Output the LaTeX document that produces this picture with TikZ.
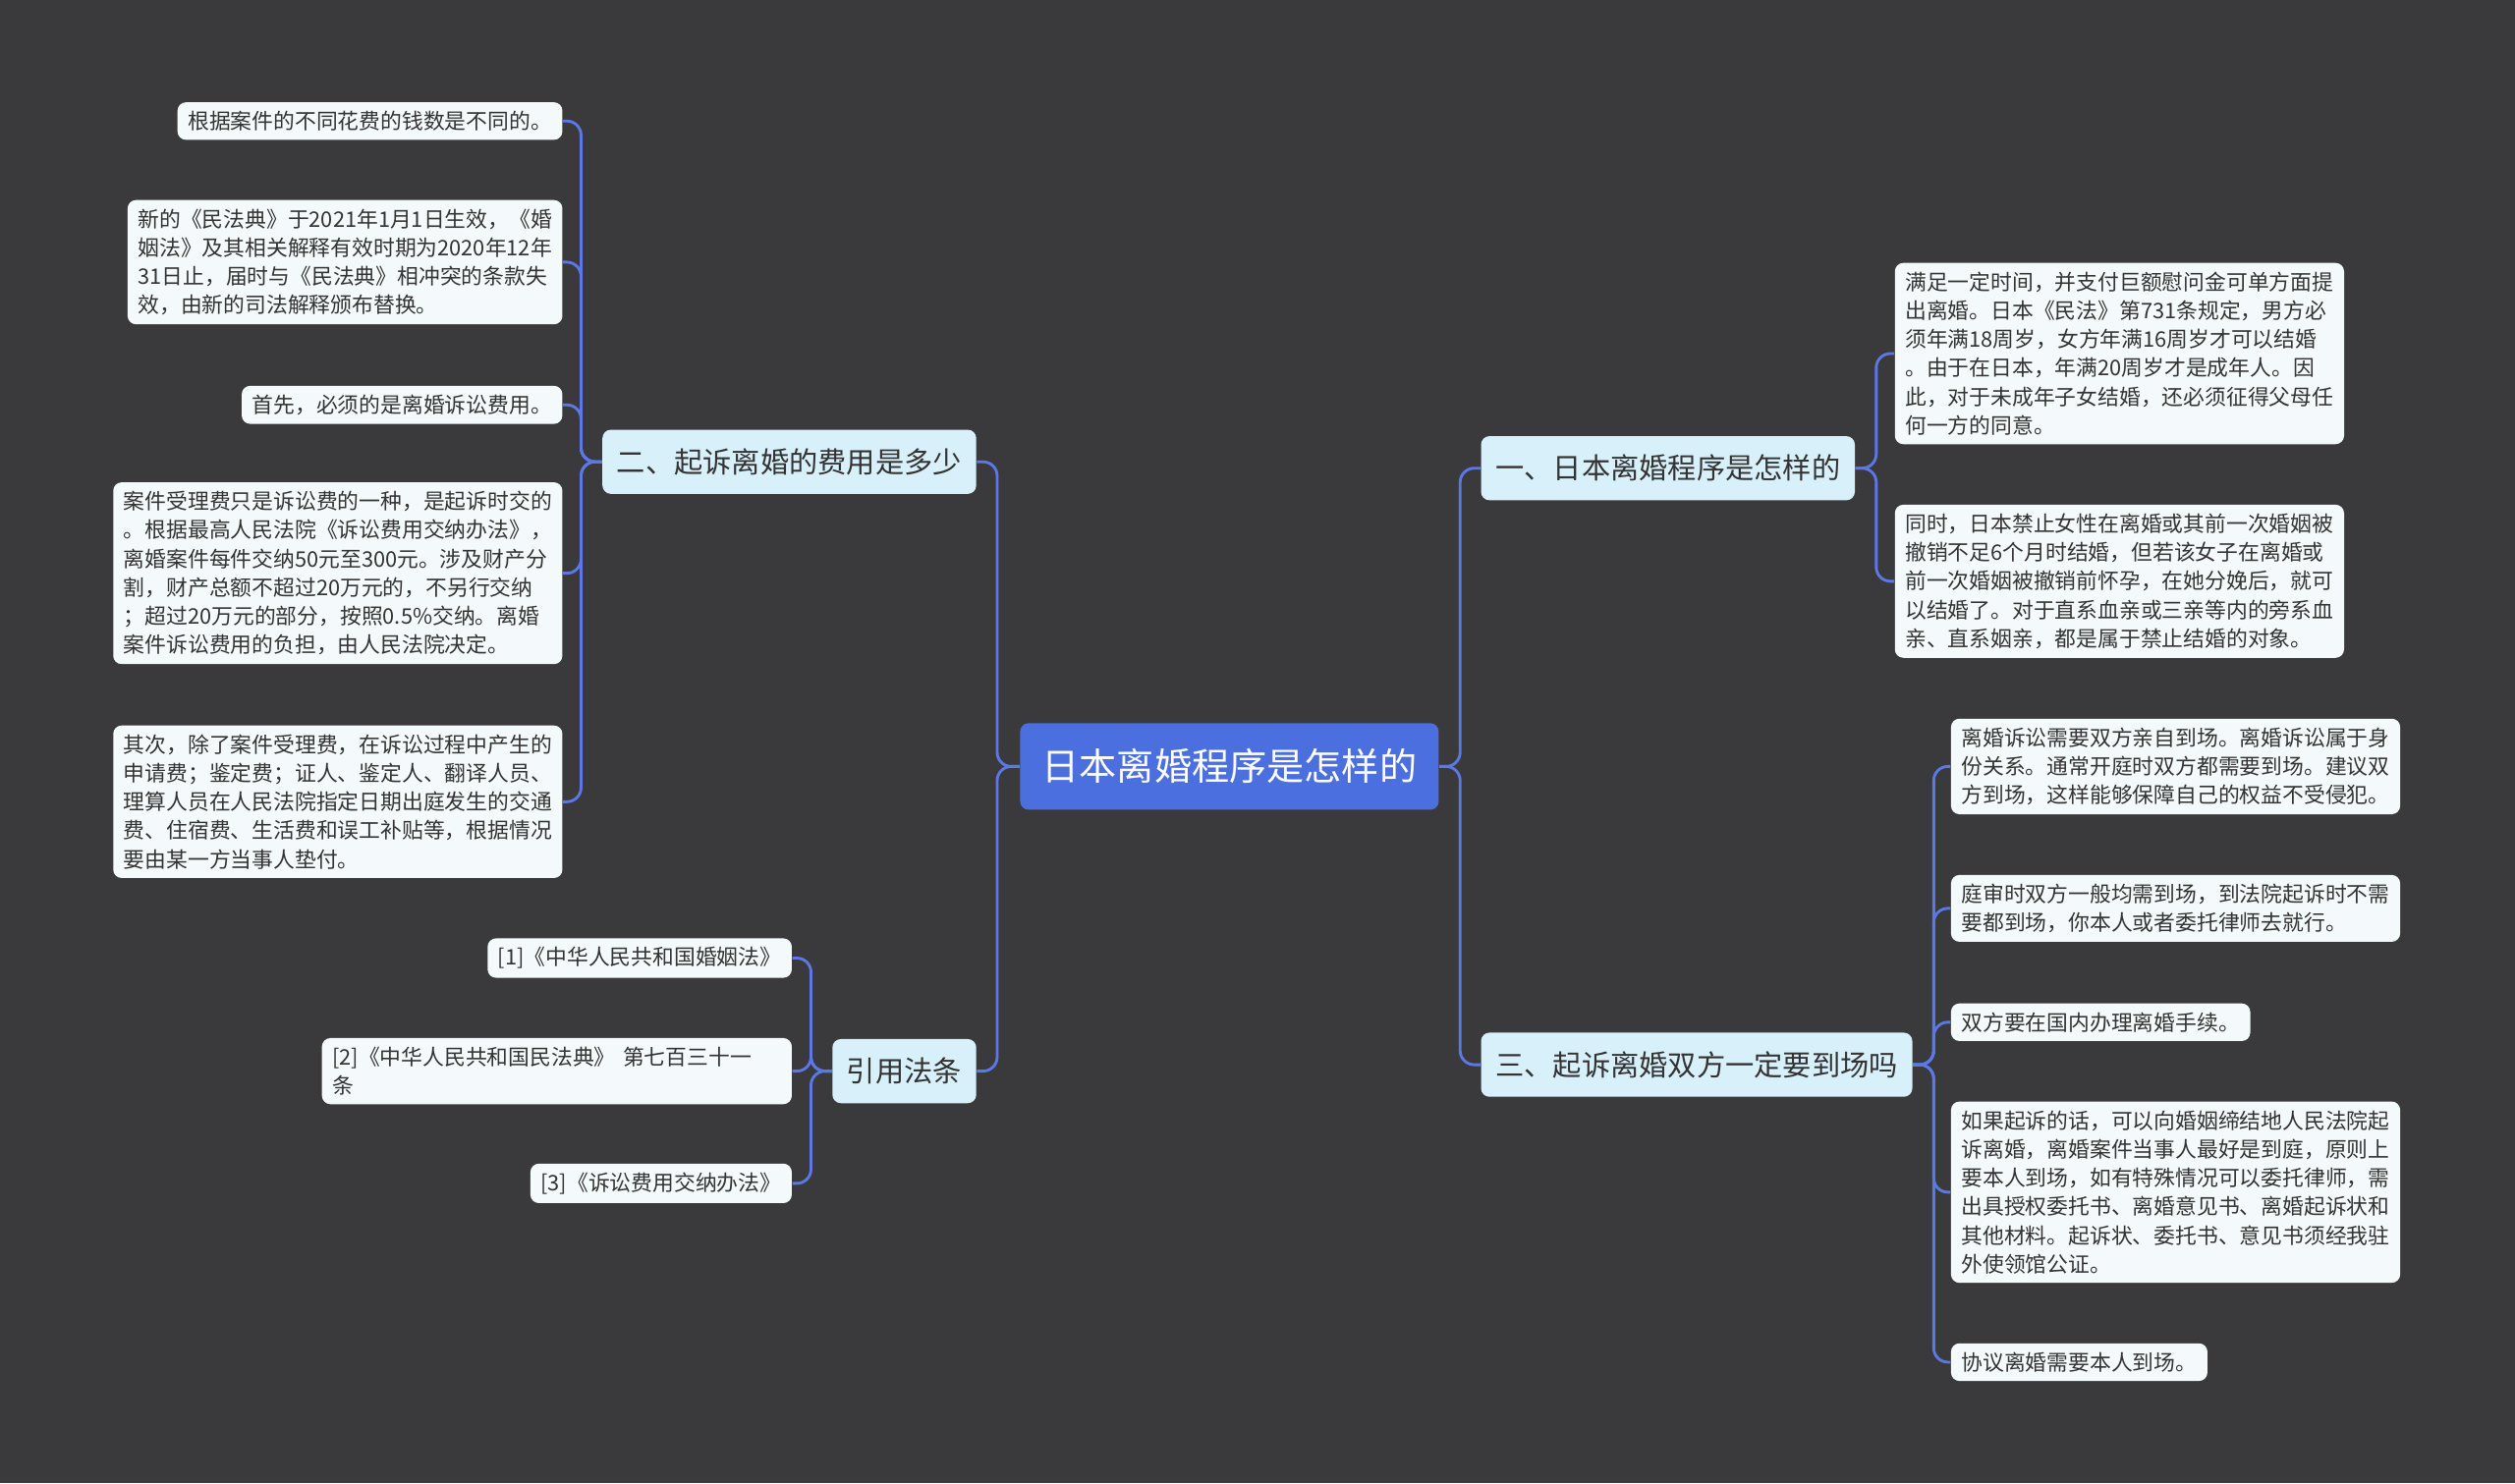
\documentclass[tikz,border=0pt]{standalone}
\usepackage{fontspec}
\setmainfont{Noto Sans CJK SC}
\definecolor{bg}{HTML}{3A3A3C}
\definecolor{conn}{HTML}{5B78E6}
\definecolor{rootc}{HTML}{4C6FE0}
\definecolor{brc}{HTML}{D8F0FA}
\definecolor{leafc}{HTML}{F4FAFC}
\definecolor{txt}{HTML}{333333}
\tikzset{
  leaf/.style={fill=leafc, rounded corners=3pt, font=\fontsize{7.6}{10.2}\selectfont, align=left, inner xsep=0.13cm, inner ysep=0.11cm, text=txt},
  br/.style={fill=brc, rounded corners=3pt, font=\fontsize{10.2}{12}\selectfont, inner xsep=0.18cm, inner ysep=0.14cm, text=txt, minimum height=0.8cm},
  root/.style={fill=rootc, rounded corners=3pt, font=\fontsize{13.3}{15}\selectfont, text=white, minimum height=1.08cm, minimum width=5.22cm},
  cn/.style={draw=conn, line width=1pt, rounded corners=5pt}
}
\begin{document}
\begin{tikzpicture}[x={(0.02cm,0)}, y={(0,-0.02cm)}]
\fill[bg] (0,0) rectangle (1568,925);
\useasboundingbox (0,0) rectangle (1568,925);
\node[root] (root) at (766.5,478) {日本离婚程序是怎样的};
\node[br, anchor=east] (b2) at (609,288) {二、起诉离婚的费用是多少};
\node[br, anchor=east] (ref) at (609,668) {引用法条};
\node[br, anchor=west] (b1) at (923,292) {一、日本离婚程序是怎样的};
\node[br, anchor=west] (b3) at (923,664) {三、起诉离婚双方一定要到场吗};

\node[leaf, anchor=east] (l1) at (351,75.5) {根据案件的不同花费的钱数是不同的。};
\node[leaf, anchor=east] (l2) at (351,163.5) {新的《民法典》于2021年1月1日生效，《婚\\姻法》及其相关解释有效时期为2020年12年\\31日止，届时与《民法典》相冲突的条款失\\效，由新的司法解释颁布替换。};
\node[leaf, anchor=east] (l3) at (351,252.5) {首先，必须的是离婚诉讼费用。};
\node[leaf, anchor=east] (l4) at (351,357.5) {案件受理费只是诉讼费的一种，是起诉时交的\\。根据最高人民法院《诉讼费用交纳办法》，\\离婚案件每件交纳50元至300元。涉及财产分\\割，财产总额不超过20万元的，不另行交纳\\；超过20万元的部分，按照0.5\%交纳。离婚\\案件诉讼费用的负担，由人民法院决定。};
\node[leaf, anchor=east] (l5) at (351,500) {其次，除了案件受理费，在诉讼过程中产生的\\申请费；鉴定费；证人、鉴定人、翻译人员、\\理算人员在人民法院指定日期出庭发生的交通\\费、住宿费、生活费和误工补贴等，根据情况\\要由某一方当事人垫付。};

\node[leaf, anchor=east] (r1) at (494,597.5) {[1]《中华人民共和国婚姻法》};
\node[leaf, anchor=east, text width=5.6cm] (r2) at (494,668) {[2]《中华人民共和国民法典》 第七百三十一\\条};
\node[leaf, anchor=east] (r3) at (494,738) {[3]《诉讼费用交纳办法》};

\node[leaf, anchor=west] (a1) at (1181,220.5) {满足一定时间，并支付巨额慰问金可单方面提\\出离婚。日本《民法》第731条规定，男方必\\须年满18周岁，女方年满16周岁才可以结婚\\。由于在日本，年满20周岁才是成年人。因\\此，对于未成年子女结婚，还必须征得父母任\\何一方的同意。};
\node[leaf, anchor=west] (a2) at (1181,362.5) {同时，日本禁止女性在离婚或其前一次婚姻被\\撤销不足6个月时结婚，但若该女子在离婚或\\前一次婚姻被撤销前怀孕，在她分娩后，就可\\以结婚了。对于直系血亲或三亲等内的旁系血\\亲、直系姻亲，都是属于禁止结婚的对象。};

\node[leaf, anchor=west] (c1) at (1216,478) {离婚诉讼需要双方亲自到场。离婚诉讼属于身\\份关系。通常开庭时双方都需要到场。建议双\\方到场，这样能够保障自己的权益不受侵犯。};
\node[leaf, anchor=west] (c2) at (1216,566.5) {庭审时双方一般均需到场，到法院起诉时不需\\要都到场，你本人或者委托律师去就行。};
\node[leaf, anchor=west] (c3) at (1216,637.5) {双方要在国内办理离婚手续。};
\node[leaf, anchor=west] (c4) at (1216,743.5) {如果起诉的话，可以向婚姻缔结地人民法院起\\诉离婚，离婚案件当事人最好是到庭，原则上\\要本人到场，如有特殊情况可以委托律师，需\\出具授权委托书、离婚意见书、离婚起诉状和\\其他材料。起诉状、委托书、意见书须经我驻\\外使领馆公证。};
\node[leaf, anchor=west] (c5) at (1216,849.5) {协议离婚需要本人到场。};

\foreach \c in {b2,ref} \draw[cn] (root.west) -- ++(-14,0) |- (\c.east);
\foreach \c in {b1,b3} \draw[cn] (root.east) -- ++(13,0) |- (\c.west);
\foreach \c in {l1,l2,l3,l4,l5} \draw[cn] (b2.west) -- ++(-13,0) |- (\c.east);
\foreach \c in {r1,r2,r3} \draw[cn] (ref.west) -- ++(-13,0) |- (\c.east);
\foreach \c in {a1,a2} \draw[cn] (b1.east) -- ++(13,0) |- (\c.west);
\foreach \c in {c1,c2,c3,c4,c5} \draw[cn] (b3.east) -- ++(13,0) |- (\c.west);
\end{tikzpicture}
\end{document}
